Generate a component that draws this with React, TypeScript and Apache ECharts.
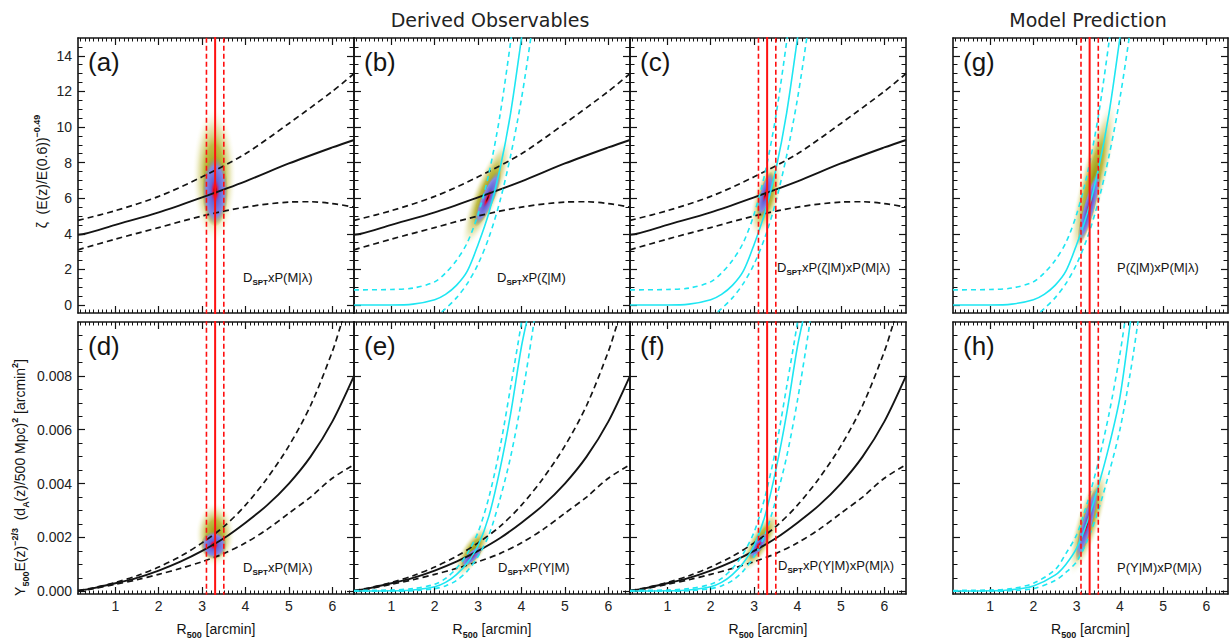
import React, { useEffect, useRef } from "react";
import * as echarts from "echarts";

const FONT = '"Liberation Sans", Arial, Helvetica, sans-serif';
const TITLE_FONT = '"DejaVu Sans", "Liberation Sans", sans-serif';

// ---------- axis ranges & tick labels ----------
const xRange = [0.14, 6.5];
const zetaRange = [-0.45, 15];
const yRange = [-0.0001, 0.01];

const xTicks = [1, 2, 3, 4, 5, 6];
const zetaTicks = [0, 2, 4, 6, 8, 10, 12, 14];
const yTicks = [0, 0.002, 0.004, 0.006, 0.008];

// ---------- zeta: derived observable (black) ----------
const zetaMean = [[0.14, 3.95], [0.3, 4.0], [1, 4.5], [2, 5.2], [3, 6.05], [4, 6.95], [5, 7.95], [6, 8.85], [6.5, 9.27]];
const zetaHigh = [[0.14, 4.75], [1, 5.3], [2, 6.1], [3, 7.2], [4, 8.5], [5, 10.2], [6, 12.0], [6.5, 13.0]];
const zetaLow = [[0.14, 3.1], [1, 3.7], [2, 4.35], [3, 5.0], [4, 5.5], [5, 5.78], [5.5, 5.8], [6, 5.7], [6.5, 5.5]];

// ---------- zeta: scaling-relation model (cyan) ----------
const zetaModel = [[0.14, 0], [1.0, 0], [1.5, 0.05], [2.0, 0.3], [2.25, 0.6], [2.5, 1.1], [2.75, 1.9], [3.0, 3.4], [3.25, 5.2], [3.5, 7.6], [3.75, 10.8], [4.0, 15.0], [4.1, 16.8]];
const zetaModelHigh = [[0.14, 0.85], [1.0, 0.87], [1.5, 0.95], [2.0, 1.3], [2.25, 1.8], [2.5, 2.5], [2.75, 3.5], [3.0, 5.1], [3.25, 7.4], [3.5, 10.6], [3.75, 14.8], [3.85, 16.8]];
const zetaModelLow = [[2.0, -0.7], [2.25, -0.2], [2.5, 0.4], [2.75, 1.2], [3.0, 2.3], [3.25, 3.8], [3.5, 5.8], [3.75, 8.4], [4.0, 11.6], [4.25, 15.6], [4.3, 16.6]];

// ---------- Y: derived observable (black) ----------
const yMean = [[0.14, 0.00002], [0.5, 0.00012], [1, 0.0003], [1.5, 0.0005], [2, 0.00077], [2.5, 0.0011], [3, 0.0015], [3.5, 0.00197], [4, 0.00255], [4.5, 0.0032], [5, 0.004], [5.5, 0.005], [6, 0.0063], [6.5, 0.008]];
const yHigh = [[0.14, 0.00003], [0.5, 0.00013], [1, 0.00033], [1.5, 0.00058], [2, 0.0009], [2.5, 0.0013], [3, 0.0018], [3.5, 0.0024], [4, 0.0032], [4.5, 0.0042], [5, 0.0054], [5.5, 0.0069], [6, 0.0089], [6.2, 0.0099], [6.3, 0.0104]];
const yLow = [[0.14, 0.0], [0.5, 0.0001], [1, 0.00026], [1.5, 0.00043], [2, 0.00063], [2.5, 0.00085], [3, 0.0011], [3.5, 0.0014], [4, 0.0018], [4.5, 0.0023], [5, 0.0029], [5.5, 0.0035], [6, 0.0042], [6.5, 0.0047]];

// ---------- Y: scaling-relation model (cyan), panels e/f ----------
const yModel = [[0.14, 0.00001], [1.0, 0.00002], [1.5, 0.00005], [2.0, 0.00017], [2.25, 0.00033], [2.5, 0.00062], [2.75, 0.00105], [3.0, 0.0017], [3.25, 0.0028], [3.5, 0.0045], [3.75, 0.0066], [4.0, 0.0091], [4.2, 0.0106]];
const yModelHigh = [[0.14, 0.00003], [1.0, 0.00005], [1.5, 0.0001], [2.0, 0.00026], [2.25, 0.00048], [2.5, 0.00085], [2.75, 0.0014], [3.0, 0.0022], [3.25, 0.0035], [3.5, 0.0053], [3.75, 0.0076], [4.0, 0.01], [4.1, 0.0112]];
const yModelLow = [[0.14, 0.0], [1.0, 0.0], [1.5, 0.00002], [2.0, 0.0001], [2.25, 0.0002], [2.5, 0.0004], [2.75, 0.00075], [3.0, 0.0013], [3.25, 0.0021], [3.5, 0.0034], [3.75, 0.005], [4.0, 0.0071], [4.25, 0.0096], [4.35, 0.0108]];

// ---------- Y: model prediction (cyan), panel h ----------
const yPred = [[0.14, 0.00001], [1.0, 0.00002], [1.5, 0.00006], [2.0, 0.0002], [2.5, 0.0006], [2.75, 0.001], [3.0, 0.0016], [3.25, 0.0026], [3.5, 0.0039], [3.75, 0.0054], [4.0, 0.0072], [4.25, 0.0101], [4.35, 0.0115]];
const yPredHigh = [[0.14, 0.00003], [1.0, 0.00005], [1.5, 0.0001], [2.0, 0.0003], [2.5, 0.0008], [2.75, 0.0014], [3.0, 0.0021], [3.25, 0.0033], [3.5, 0.0048], [3.75, 0.0066], [4.0, 0.0088], [4.15, 0.0104]];
const yPredLow = [[0.14, 0.0], [1.0, 0.0], [1.5, 0.00002], [2.0, 0.0001], [2.5, 0.0004], [2.75, 0.0007], [3.0, 0.0011], [3.25, 0.0019], [3.5, 0.003], [3.75, 0.0044], [4.0, 0.006], [4.25, 0.0082], [4.4, 0.0098], [4.45, 0.0104]];

// ---------- R500 constraint (red) ----------
const rCenter = 3.3;
const rLower = 3.1;
const rUpper = 3.5;

// ---------- likelihood blobs: [cx, cy, endX, endY, halfWidthX, layer(0 haze,1 core)] ----------
const blobA = [[3.28, 7.3, 3.28, 11.1, 0.5, 0], [3.3, 6.4, 3.3, 8.4, 0.3, 1]];
const blobB = [[3.2, 6.3, 3.72, 9.4, 0.3, 0], [3.22, 6.0, 3.5, 7.6, 0.16, 1]];
const blobC = [[3.28, 6.0, 3.52, 8.2, 0.3, 0], [3.26, 6.2, 3.4, 7.5, 0.14, 1]];
const blobG = [[3.38, 7.0, 3.84, 11.5, 0.3, 0], [3.29, 5.5, 3.53, 7.65, 0.14, 1]];
const blobD = [[3.3, 0.0021, 3.3, 0.0033, 0.45, 0], [3.27, 0.00172, 3.27, 0.00225, 0.3, 1]];
const blobE = [[2.87, 0.00149, 3.25, 0.00245, 0.25, 0], [2.86, 0.0013, 3.1, 0.00168, 0.12, 1]];
const blobF = [[3.14, 0.00185, 3.55, 0.003, 0.25, 0], [3.1, 0.0017, 3.3, 0.0022, 0.12, 1]];
const blobH = [[3.27, 0.0026, 3.65, 0.0046, 0.28, 0], [3.24, 0.0025, 3.48, 0.0039, 0.13, 1]];

// ---------- labels ----------
const titleDerived = "Derived Observables";
const titleModel = "Model Prediction";
const X_NAME = "{n|R}{s|500}{n| [arcmin]}";
const ZETA_NAME = "{n|ζ  (E(z)/E(0.6))}{p|−0.49}";
const Y_NAME = "{n|Y}{s|500}{n|E(z)}{p|−2/3}{n|  (d}{s|A}{n|(z)/500 Mpc)}{p|2}{n| [arcmin}{p|2}{n|]}";

// ---------- layout ----------
const colLefts = [78, 354, 630, 953];
const colWidths = [276, 276, 276, 275];
const rowTops = [38, 322];
const PANEL_H = 275;

const panels = [
  { label: "(a)", row: 0, col: 0, kind: "zeta", black: true, model: null, red: true, blob: blobA, note: "{n|D}{s|SPT}{n|xP(M|λ)}", noteAt: [243, 277] },
  { label: "(b)", row: 0, col: 1, kind: "zeta", black: true, model: "zeta", red: false, blob: blobB, note: "{n|D}{s|SPT}{n|xP(ζ|M)}", noteAt: [497, 277] },
  { label: "(c)", row: 0, col: 2, kind: "zeta", black: true, model: "zeta", red: true, blob: blobC, note: "{n|D}{s|SPT}{n|xP(ζ|M)xP(M|λ)}", noteAt: [777, 267] },
  { label: "(g)", row: 0, col: 3, kind: "zeta", black: false, model: "zeta", red: true, blob: blobG, note: "{n|P(ζ|M)xP(M|λ)}", noteAt: [1117, 267] },
  { label: "(d)", row: 1, col: 0, kind: "y", black: true, model: null, red: true, blob: blobD, note: "{n|D}{s|SPT}{n|xP(M|λ)}", noteAt: [243, 567] },
  { label: "(e)", row: 1, col: 1, kind: "y", black: true, model: "y", red: false, blob: blobE, note: "{n|D}{s|SPT}{n|xP(Y|M)}", noteAt: [498, 567] },
  { label: "(f)", row: 1, col: 2, kind: "y", black: true, model: "y", red: true, blob: blobF, note: "{n|D}{s|SPT}{n|xP(Y|M)xP(M|λ)}", noteAt: [778, 565] },
  { label: "(h)", row: 1, col: 3, kind: "y", black: false, model: "yh", red: true, blob: blobH, note: "{n|P(Y|M)xP(M|λ)}", noteAt: [1117, 567] },
];

function minorTicks(min: number, max: number, step: number, majors: number[]) {
  const out: number[] = [];
  const k0 = Math.ceil(min / step - 1e-9);
  const k1 = Math.floor(max / step + 1e-9);
  for (let k = k0; k <= k1; k++) {
    const v = +(k * step).toFixed(6);
    if (v <= min || v >= max) continue;
    if (majors.some((m) => Math.abs(m - v) < step * 1e-3)) continue;
    out.push(v);
  }
  return out;
}

const xMinor = minorTicks(xRange[0], xRange[1], 0.1, xTicks);
const zetaMinor = minorTicks(zetaRange[0], zetaRange[1], 0.5, zetaTicks);
const yMinorT = minorTicks(yRange[0], yRange[1], 0.0005, yTicks);

const INK = "#141414";
const CYAN = "#1ee6f2";
const RED = "#ff1010";

const richAxis = {
  n: { fontSize: 14, lineHeight: 20, color: INK, fontFamily: FONT },
  s: { fontSize: 9, lineHeight: 10, verticalAlign: "bottom", color: INK, fontFamily: FONT, fontWeight: "bold" },
  p: { fontSize: 9, lineHeight: 10, verticalAlign: "top", color: INK, fontFamily: FONT, fontWeight: "bold" },
};
const richName = {
  n: { fontSize: 14, lineHeight: 20, fill: INK, fontFamily: FONT },
  s: { fontSize: 9, lineHeight: 10, verticalAlign: "bottom", fill: INK, fontFamily: FONT, fontWeight: "bold" },
  p: { fontSize: 9, lineHeight: 10, verticalAlign: "top", fill: INK, fontFamily: FONT, fontWeight: "bold" },
};
const richNote = {
  n: { fontSize: 13, lineHeight: 18, fill: INK, fontFamily: FONT },
  s: { fontSize: 8, lineHeight: 9, verticalAlign: "bottom", fill: INK, fontFamily: FONT, fontWeight: "bold" },
};

const hazeGrad = {
  type: "radial", x: 0.5, y: 0.5, r: 0.5,
  colorStops: [
    { offset: 0, color: "rgba(150,148,10,1)" },
    { offset: 0.45, color: "rgba(178,175,35,0.85)" },
    { offset: 0.72, color: "rgba(210,206,115,0.5)" },
    { offset: 1, color: "rgba(250,250,225,0)" },
  ],
};
const coreGrad = {
  type: "radial", x: 0.5, y: 0.5, r: 0.5,
  colorStops: [
    { offset: 0, color: "#2a0008" },
    { offset: 0.07, color: "#7a0014" },
    { offset: 0.15, color: "#e81030" },
    { offset: 0.24, color: "#a2389a" },
    { offset: 0.33, color: "#6664d6" },
    { offset: 0.7, color: "#8489e4" },
    { offset: 0.86, color: "rgba(150,150,130,0.6)" },
    { offset: 1, color: "rgba(175,170,40,0)" },
  ],
};

function blobRender(params: any, api: any) {
  const c = api.coord([api.value(0), api.value(1)]);
  const e = api.coord([api.value(2), api.value(3)]);
  const w = api.size([api.value(4), 0])[0];
  const layer = api.value(5);
  const dx = e[0] - c[0];
  const dy = e[1] - c[1];
  const L = Math.max(1, Math.hypot(dx, dy));
  return {
    type: "ellipse",
    x: c[0],
    y: c[1],
    rotation: Math.atan2(-dy, dx),
    shape: { cx: 0, cy: 0, rx: L, ry: w },
    style: { fill: layer === 0 ? hazeGrad : coreGrad },
  };
}

function buildOption() {
  const grid: any[] = [];
  const xAxis: any[] = [];
  const yAxis: any[] = [];
  const series: any[] = [];
  const graphic: any[] = [];

  const axisLine = { show: true, onZero: false, lineStyle: { color: INK, width: 1.6 } };
  const noLine = { show: false, onZero: false };

  panels.forEach((p, g) => {
    const left = colLefts[p.col];
    const top = rowTops[p.row];
    grid.push({ left, top, width: colWidths[p.col], height: PANEL_H, containLabel: false });

    const isZeta = p.kind === "zeta";
    const yr = isZeta ? zetaRange : yRange;
    const yMaj = isZeta ? zetaTicks : yTicks;
    const yMin = isZeta ? zetaMinor : yMinorT;
    const showX = p.row === 1;
    const showY = p.col === 0;

    const xb = { type: "value", gridIndex: g, min: xRange[0], max: xRange[1], splitLine: { show: false } };
    xAxis.push({
      ...xb, position: "bottom", axisLine,
      axisTick: { show: true, inside: true, length: 7, customValues: xTicks, lineStyle: { color: INK, width: 1.2 } },
      axisLabel: { show: showX, customValues: xTicks, margin: 5, fontSize: 14, color: "#222", fontFamily: FONT },
      name: showX ? X_NAME : "", nameLocation: "middle", nameGap: 25,
      nameTextStyle: { rich: richAxis, color: INK, fontFamily: FONT, fontSize: 14 },
    });
    xAxis.push({
      ...xb, position: "bottom", axisLine: noLine,
      axisTick: { show: true, inside: true, length: 3.5, customValues: xMinor, lineStyle: { color: INK, width: 1 } },
      axisLabel: { show: false },
    });
    xAxis.push({
      ...xb, position: "top", axisLine,
      axisTick: { show: true, inside: true, length: 7, customValues: xTicks, lineStyle: { color: INK, width: 1.2 } },
      axisLabel: { show: false },
    });
    xAxis.push({
      ...xb, position: "top", axisLine: noLine,
      axisTick: { show: true, inside: true, length: 3.5, customValues: xMinor, lineStyle: { color: INK, width: 1 } },
      axisLabel: { show: false },
    });

    const yb = { type: "value", gridIndex: g, min: yr[0], max: yr[1], splitLine: { show: false } };
    yAxis.push({
      ...yb, position: "left", axisLine,
      axisTick: { show: true, inside: true, length: 7, customValues: yMaj, lineStyle: { color: INK, width: 1.2 } },
      axisLabel: {
        show: showY, customValues: yMaj, margin: 6, fontSize: 14, color: "#222", fontFamily: FONT,
        formatter: (v: number) => (isZeta ? String(Math.round(v)) : v.toFixed(3)),
      },
    });
    yAxis.push({
      ...yb, position: "left", axisLine: noLine,
      axisTick: { show: true, inside: true, length: 4.5, customValues: yMin, lineStyle: { color: INK, width: 1 } },
      axisLabel: { show: false },
    });
    yAxis.push({
      ...yb, position: "right", axisLine,
      axisTick: { show: true, inside: true, length: 7, customValues: yMaj, lineStyle: { color: INK, width: 1.2 } },
      axisLabel: { show: false },
    });
    yAxis.push({
      ...yb, position: "right", axisLine: noLine,
      axisTick: { show: true, inside: true, length: 4.5, customValues: yMin, lineStyle: { color: INK, width: 1 } },
      axisLabel: { show: false },
    });

    if (showY) {
      graphic.push({
        type: "text", x: isZeta ? 42 : 20, y: top + PANEL_H / 2 + (isZeta ? -4 : 18), rotation: Math.PI / 2, z: 10,
        style: { text: isZeta ? ZETA_NAME : Y_NAME, rich: richName, fill: INK, fontSize: 14, fontFamily: FONT, align: "center", verticalAlign: "middle" },
      });
    }

    const ai = { xAxisIndex: 4 * g, yAxisIndex: 4 * g };
    const line = (data: number[][], color: string, type: any, width: number, z: number, smooth = true) => ({
      type: "line", ...ai, data, symbol: "none", showSymbol: false, silent: true, clip: true,
      smooth: smooth ? 0.3 : false, z,
      lineStyle: { color, type, width, cap: "butt" },
    });

    series.push({
      type: "custom", ...ai, data: p.blob, renderItem: blobRender, clip: true, silent: true, z: 1,
      encode: { x: [0, 2], y: [1, 3] },
    });

    if (p.black) {
      const set = isZeta ? [zetaMean, zetaHigh, zetaLow] : [yMean, yHigh, yLow];
      series.push(line(set[0], INK, "solid", 1.9, 3));
      series.push(line(set[1], INK, [6, 4], 1.7, 3));
      series.push(line(set[2], INK, [6, 4], 1.7, 3));
    }
    if (p.model) {
      const set = p.model === "zeta" ? [zetaModel, zetaModelHigh, zetaModelLow]
        : p.model === "y" ? [yModel, yModelHigh, yModelLow] : [yPred, yPredHigh, yPredLow];
      series.push(line(set[0], CYAN, "solid", 1.6, 4));
      series.push(line(set[1], CYAN, [5, 4], 1.6, 4));
      series.push(line(set[2], CYAN, [5, 4], 1.6, 4));
    }
    if (p.red) {
      const lo = yr[0] - 1, hi = yr[1] + 1;
      series.push(line([[rCenter, lo], [rCenter, hi]], RED, "solid", 2, 5, false));
      series.push(line([[rLower, lo], [rLower, hi]], RED, [5, 3], 1.6, 5, false));
      series.push(line([[rUpper, lo], [rUpper, hi]], RED, [5, 3], 1.6, 5, false));
    }

    graphic.push({
      type: "text", x: left + 10, y: top + 24, z: 10,
      style: { text: p.label, fill: INK, fontSize: 26, fontFamily: FONT, verticalAlign: "middle", align: "left" },
    });
    graphic.push({
      type: "text", x: p.noteAt[0], y: p.noteAt[1], z: 10,
      style: { text: p.note, rich: richNote, fill: INK, fontSize: 13, fontFamily: FONT, verticalAlign: "middle", align: "left" },
    });
  });

  graphic.push({
    type: "text", x: 490, y: 20, z: 10,
    style: { text: titleDerived, fill: "#222", fontSize: 19, fontFamily: TITLE_FONT, align: "center", verticalAlign: "middle" },
  });
  graphic.push({
    type: "text", x: 1088, y: 20, z: 10,
    style: { text: titleModel, fill: "#222", fontSize: 19, fontFamily: TITLE_FONT, align: "center", verticalAlign: "middle" },
  });

  return {
    animation: false,
    backgroundColor: "#ffffff",
    textStyle: { fontFamily: FONT },
    grid, xAxis, yAxis, series, graphic,
  };
}

export default function App() {
  const ref = useRef<HTMLDivElement>(null);
  useEffect(() => {
    document.body.style.margin = "0";
    if (!ref.current) return;
    const chart = echarts.init(ref.current, undefined, { renderer: "svg" });
    chart.setOption(buildOption() as any);
    return () => chart.dispose();
  }, []);
  return <div ref={ref} style={{ position: "absolute", left: 0, top: 0, width: 1229, height: 640 }} />;
}
